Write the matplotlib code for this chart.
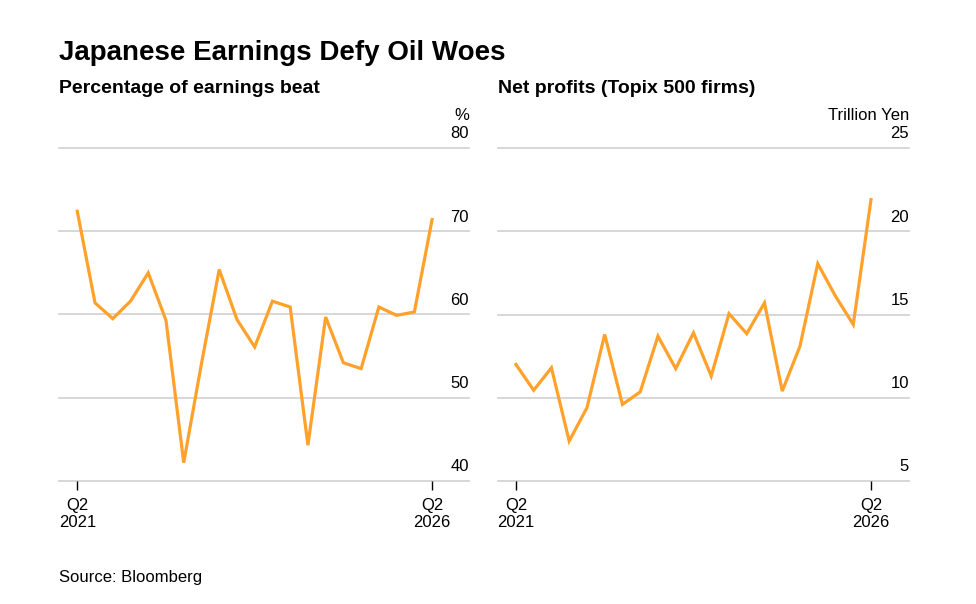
import matplotlib.pyplot as plt
import matplotlib.transforms as mtransforms

plt.rcParams['font.family'] = ['Liberation Sans', 'DejaVu Sans']

# quarterly data, Q2 2021 .. Q2 2026
quarters = list(range(21))
beat_pct = [72.4, 61.4, 59.5, 61.6, 65.0, 59.3, 42.2, 54.1, 65.4, 59.4, 56.1,
            61.6, 60.9, 44.3, 59.7, 54.2, 53.5, 60.9, 59.9, 60.3, 71.4]
net_profit = [12.0, 10.45, 11.8, 7.4, 9.4, 13.8, 9.6, 10.35, 13.7, 11.75, 13.9,
              11.3, 15.05, 13.85, 15.7, 10.4, 13.1, 18.05, 16.1, 14.4, 21.9]

x_ticks = [0, 20]
x_labels = ['Q2\n2021', 'Q2\n2026']
left_yticks = [40, 50, 60, 70, 80]
right_yticks = [5, 10, 15, 20, 25]

W, H = 976, 604
ORANGE = '#FFA12B'
GRID = '#d4d4d4'
FS = 12

fig = plt.figure(figsize=(W / 100, H / 100), dpi=100)


def px_box(x0, x1, y_top, y_bot):
    return [x0 / W, 1 - y_bot / H, (x1 - x0) / W, (y_bot - y_top) / H]


def draw_panel(ax, values, yticks, xlim, unit):
    ax.plot(quarters, values, color=ORANGE, lw=2.3, solid_joinstyle='miter',
            zorder=3)
    ax.set_xlim(*xlim)
    ax.set_ylim(yticks[0], yticks[-1])
    for sp in ax.spines.values():
        sp.set_visible(False)
    ax.set_yticks([])
    for v in yticks:
        ax.axhline(v, color=GRID, lw=1.3, zorder=1, clip_on=False)
    trans = ax.get_yaxis_transform()
    for v in yticks:
        off = mtransforms.offset_copy(trans, fig=fig, x=0, y=7, units='points')
        ax.text(1.0, v, str(v), transform=off, ha='right', va='baseline',
                fontsize=FS, color='black')
    off = mtransforms.offset_copy(trans, fig=fig, x=0, y=20.5, units='points')
    ax.text(1.0, yticks[-1], unit, transform=off, ha='right', va='baseline',
            fontsize=FS, color='black')
    ax.set_xticks(x_ticks)
    ax.set_xticklabels(x_labels, fontsize=FS, linespacing=1.12)
    ax.tick_params(axis='x', length=6.5, width=1, color='black', pad=6)


ax1 = fig.add_axes(px_box(59, 469, 148, 481))
draw_panel(ax1, beat_pct, left_yticks, (-1.03, 22.08), '%')

ax2 = fig.add_axes(px_box(498, 909, 148, 481))
draw_panel(ax2, net_profit, right_yticks, (-1.01, 22.14), 'Trillion Yen')

fig.text(59 / W, 1 - 59.5 / H, 'Japanese Earnings Defy Oil Woes',
         fontsize=20, fontweight='bold', va='baseline', ha='left')
fig.text(59 / W, 1 - 93.3 / H, 'Percentage of earnings beat',
         fontsize=14, fontweight='bold', va='baseline', ha='left')
fig.text(498 / W, 1 - 93.3 / H, 'Net profits (Topix 500 firms)',
         fontsize=14, fontweight='bold', va='baseline', ha='left')
fig.text(59 / W, 1 - 582 / H, 'Source: Bloomberg',
         fontsize=FS, va='baseline', ha='left')

fig.savefig('out.png', dpi=100, facecolor='white')
